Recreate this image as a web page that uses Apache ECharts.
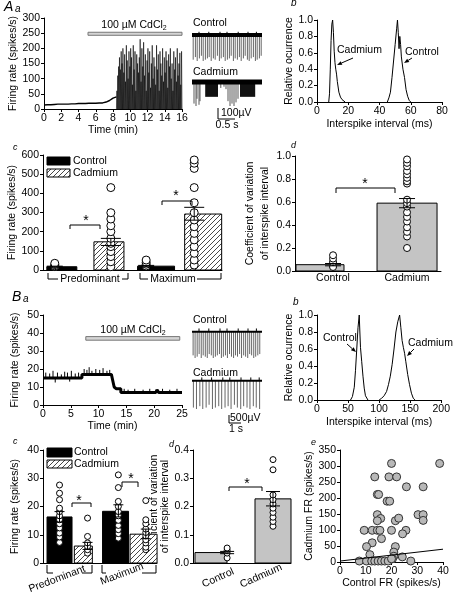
<!DOCTYPE html>
<html><head><meta charset="utf-8">
<script src="https://cdn.jsdelivr.net/npm/echarts@6/dist/echarts.min.js"></script>
<style>html,body{margin:0;padding:0;background:#fff}#c{width:453px;height:598px}</style>
</head><body><div id="c"></div>
<script>
// ================= DATA =================
// Aa: firing-rate time course (min, spikes/s)
const aaBaseStep = 0.2;
const aaBaseRate = [13,14,14,15,14,15,15,15,16,15, 16,16,16,17,16,17,17,17,17,17, 18,17,18,18,18,18,19,18,19,19, 19,19,20,19,20,21,23,25,28,32, 36,38,40];
const aaBurstStart = 8.4, aaBurstStep = 0.1;
const aaBurstPeak = [60,110,140,170,130,190,
 150,200,120,180,90,210,160,100,190,140,
 200,170,80,210,130,190,60,180,150,120,
 170,230,90,200,140,220,110,180,60,160,
 200,120,190,70,150,210,100,170,140,80,
 210,130,180,60,190,150,110,200,90,170,
 120,190,160,70,180,140,200,100,150,60,
 190,130,170,90,200,110,150,185,80,190];
const aaDrug = [5.1, 16];
// Ab: ISI histograms
const abCdX = [7.5,8,8.5,9,9.5,10,10.5,11,11.5,12,12.5,13,14,15,16,18];
const abCdY = [0,0.1,0.4,0.75,0.95,1.0,0.85,0.62,0.48,0.4,0.34,0.25,0.12,0.06,0.03,0];
const abCtX = [45,46,47,48,49,50,51,51.5,52,52.5,53,53.5,54,55,56,57,58,59,60];
const abCtY = [0,0.05,0.12,0.3,0.5,0.7,0.9,1.0,0.85,0.65,0.8,0.7,0.55,0.4,0.3,0.15,0.07,0.02,0];
// Ac: [predominant, maximum]
const acCtMean = [17, 20], acCdMean = [147, 292];
const acCtErr = [[15,20],[17,24]], acCdErr = [[128,165],[260,327]];
const acCtPredDots = [18,22,28,35];
const acCdPredDots = [17,43,70,96,122,139,165,200,231,266,299,430];
const acCtMaxDots = [21,30,40,52];
const acCdMaxDots = [26,52,87,122,157,191,226,261,299,351,430,530,557,574];
// Ad: CV of ISI [control, cadmium]
const adMean = [0.055, 0.59];
const adErr = [[0.045,0.065],[0.55,0.63]];
const adCtDots = [0.035,0.078,0.108,0.137];
const adCdDots = [0.20,0.30,0.34,0.38,0.43,0.47,0.51,0.56,0.59,0.62,0.76,0.78,0.81,0.84,0.87,0.91,0.94,0.97];
// Ba: firing-rate time course: steady level + brief fluctuations
const baLevelT = [0,7,7,12.3,12.8,13.2,14,14,20.3,20.5,20.8,25];
const baLevelV = [15,15,17,17,10,9,9,7,7,8.5,7,7];
const baTickT = [0.5,1.2,1.8,2.6,3.3,3.9,4.4,5.1,5.8,6.4, 2.2,4.8, 7.4,7.9,8.3,8.8,9.5,10.2,10.8,11.5,12.0, 14.6,15.3,16.5,18.0,19.2,21.5,22.8,24.1];
const baTickV = [18,17.5,19,18,17,18.5,18,19,17.5,18, 12.5,13, 20,19.5,21,19,20,19.5,20.5,19,19.5, 9,8.5,9,8.5,9,9,8.5,9];
const baDrug = [7.7, 24.6];
// Bb: ISI histograms
const bbCtX = [54,57,60,62,64,66,68,69,70,72,74,76,78,82];
const bbCtY = [0,0.04,0.15,0.35,0.6,0.85,1.0,0.8,0.62,0.45,0.28,0.14,0.05,0];
const bbCdX = [100,104,108,112,115,118,121,124,127,130,133,135,137,139,141,143,146,149,152,155,158];
const bbCdY = [0,0.02,0.05,0.1,0.18,0.28,0.42,0.6,0.8,0.92,1.0,0.85,0.7,0.62,0.55,0.45,0.3,0.18,0.08,0.02,0];
// Bc: [predominant, maximum]
const bcCtMean = [16.3, 18.3], bcCdMean = [6.0, 10.2];
const bcCtErr = [[14.5,18.2],[16.3,20.6]], bcCdErr = [[4.8,7.3],[8.6,12.0]];
const bcCtPredDots = [7.3,9.2,10.6,12.4,13.9,15.3,16.7,18.2,19.4,22.4,24.7,27.6];
const bcCdPredDots = [3.5,4.7,5.9,7.1,9.4,15.9];
const bcCtMaxDots = [8.8,10.4,11.8,13.3,15.1,16.7,18.2,20.0,21.8,26.7,31.2];
const bcCdMaxDots = [4.7,5.6,7.1,8.2,9.6,10.8,12.0,13.9,15.3,22.1];
// Bd: CV of ISI
const bdMean = [0.037, 0.227];
const bdErr = [[0.033,0.041],[0.202,0.253]];
const bdCtDots = [0.018,0.035,0.045,0.053];
const bdCdDots = [0.13,0.147,0.162,0.179,0.194,0.209,0.224,0.241,0.33,0.366];
// Be: control FR vs cadmium FR
const beCtrl = [20,38.7,13.5,19,22,14.5,15,18.3,19.3,25.8,32.3,30.3,32.3,32.3,14.5,15.8,14.5,21.5,22.8,9.4,12.5,14.5,15.5,20,25.6,24.3,16.1,12.5,10.3,21.5,11.6,20.9,20.9,24.2,20.4,7.5,10.3,12.3,13.5,14.8,16.1,17.4,18.7,27.5,20];
const beCd   = [308,308,266,266,266,211,211,190,190,235,235,148,148,130,148,136,129,129,137,99,99,99,99,99,99,88,73,60,48,48,23,31,18,16,10,3,3,3,3,3,3,3,3,3,10];
const beFitX = [0, 40], beFitY = [3, 40];
// Raw traces (time s, relative spike depth)
const trADur = 1.75;
const trACtlT = [0.03,0.085,0.13,0.185,0.235,0.28,0.335,0.385,0.43,0.48,0.535,0.58,0.635,0.685,0.73,0.785,0.83,0.885,0.935,0.98,1.035,1.08,1.135,1.185,1.23,1.285,1.33,1.385,1.43,1.48,1.535,1.585,1.63,1.685,1.73];
const trACtlD = [0.95,0.85,1,0.9,0.8,1,0.95,0.9,0.85,1,0.9,0.95,0.8,1,0.9,0.85,1,0.95,0.9,0.8,1,0.9,0.95,0.85,1,0.9,0.8,0.95,1,0.9,0.85,1,0.95,0.9,0.8];
const trACdT = [0.05,0.1,0.125,0.175,0.2,0.72,0.8,0.85,0.9,0.95,1.0,1.05,1.1,1.15];
const trACdD = [0.9,1,0.7,0.95,0.8,0.25,0.2,0.3,0.8,1,0.9,1,0.85,0.7];
const trACdBurst = [[0.33,0.65,0.62],[1.2,1.58,0.62]];
const trBDur = 5;
const trBCtlT = [0.08,0.22,0.37,0.51,0.66,0.80,0.95,1.09,1.23,1.38,1.52,1.67,1.81,1.96,2.10,2.24,2.39,2.53,2.68,2.82,2.97,3.11,3.25,3.40,3.54,3.69,3.83,3.98,4.12,4.26,4.41,4.55,4.70,4.84];
const trBCtlD = [0.9,1,0.95,0.85,1,0.9,0.95,1,0.85,0.9,1,0.95,0.9,0.85,1,0.95,0.9,1,0.85,0.95,1,0.9,0.95,0.85,1,0.9,0.95,1,0.85,0.9,1,0.95,0.9,0.85];
const trBCdT = [0.1,0.32,0.56,0.77,1.01,1.22,1.46,1.67,1.91,2.12,2.36,2.58,2.79,3.03,3.24,3.48,3.69,3.93,4.14,4.38,4.59,4.83];
const trBCdD = [0.95,1,0.9,1,0.95,0.85,1,0.95,0.9,1,0.95,0.9,1,0.85,0.95,1,0.9,0.95,1,0.9,0.95,1];
const trBUpT = [0.5,1.2,2.0,2.5,3.3,4.0,4.6];

// ================= LAYOUT / STYLE =================
const FF = '"Liberation Sans", Arial, sans-serif';
const F = (s, it) => (it ? 'italic ' : '') + s + 'px ' + FF;
const grids = [
  {left:44, top:18, width:138, height:91},
  {left:317, top:20, width:125, height:82},
  {left:43, top:155, width:179, height:115},
  {left:295, top:156, width:146, height:115},
  {left:43, top:315, width:139, height:90},
  {left:317, top:315, width:126, height:85},
  {left:43, top:450, width:114, height:113},
  {left:193, top:450, width:98, height:113},
  {left:340, top:450, width:103, height:112},
  {left:192, top:31, width:70, height:30},
  {left:192, top:79, width:70, height:27},
  {left:192, top:329, width:70, height:29},
  {left:192, top:378, width:70, height:31}
];
const acPos = [0,1,2,3], acW = [30,30,37,37], acDotX = [-0.15,1.04,1.79,2.81];
const adPos = [0,1], adW = [48,60], adDotX = [0.15,1];
const bcPos = [0,0.85,2,3], bcW = [25,18,26,27], bcDotX = [0,1.0,2.1,3.08];
const bdPos = [0,1], bdW = [32,36], bdDotX = [0.26,1];

function hatchCanvas(){
  const c = document.createElement('canvas'); c.width = 5; c.height = 5;
  const g = c.getContext('2d');
  g.fillStyle = '#fff'; g.fillRect(0,0,5,5);
  g.strokeStyle = '#333'; g.lineWidth = 0.9; g.beginPath();
  g.moveTo(0,5); g.lineTo(5,0); g.moveTo(-1,1); g.lineTo(1,-1); g.moveTo(4,6); g.lineTo(6,4);
  g.stroke(); return c;
}
const HATCH = {image: hatchCanvas(), repeat: 'repeat'};

function merge(a, b){
  const o = Object.assign({}, a);
  for (const k in b){
    const v = b[k];
    if (v && typeof v === 'object' && !Array.isArray(v) && a[k] && typeof a[k] === 'object' && !Array.isArray(a[k])) o[k] = merge(a[k], v);
    else o[k] = v;
  }
  return o;
}
const axBase = {
  type:'value', nameLocation:'middle',
  axisLine:{show:true, onZero:false, lineStyle:{color:'#000', width:1}},
  axisTick:{show:true, length:3, lineStyle:{color:'#000'}},
  axisLabel:{color:'#000', fontSize:10.5, fontFamily:FF, margin:4},
  splitLine:{show:false},
  nameTextStyle:{color:'#000', fontSize:10.5, fontFamily:FF}
};
const ax = (gi, o) => merge(merge(axBase, {gridIndex:gi}), o || {});
const f1 = v => v.toFixed(1);
const bareX = {axisTick:{show:false}, axisLabel:{show:false}};

const xAxis = [
  ax(0,{min:0,max:16,interval:2,name:'Time (min)',nameGap:14}),
  ax(1,{min:0,max:80,interval:20,name:'Interspike interval (ms)',nameGap:17}),
  ax(2,merge(bareX,{min:-0.4,max:3.4})),
  ax(3,merge(bareX,{min:-0.287,max:1.39})),
  ax(4,{min:0,max:25,interval:5,name:'Time (min)',nameGap:14}),
  ax(5,{min:0,max:200,interval:50,name:'Interspike interval (ms)',nameGap:17}),
  ax(6,merge(bareX,{min:-0.59,max:3.48})),
  ax(7,merge(bareX,{min:-0.29,max:1.29})),
  ax(8,{min:0,max:40,interval:10,name:'Control FR (spikes/s)',nameGap:12}),
  {type:'value',gridIndex:9,show:false,min:0,max:trADur},
  {type:'value',gridIndex:10,show:false,min:0,max:trADur},
  {type:'value',gridIndex:11,show:false,min:0,max:trBDur},
  {type:'value',gridIndex:12,show:false,min:0,max:trBDur}
];
const yAxis = [
  ax(0,{min:0,max:300,interval:50,name:'Firing rate (spikes/s)',nameGap:23}),
  ax(1,{min:0,max:1,interval:0.2,axisLabel:{formatter:f1},name:'Relative ocurrence',nameGap:19}),
  ax(2,{min:0,max:600,interval:100,name:'Firing rate (spikes/s)',nameGap:23}),
  ax(3,{min:0,max:1,interval:0.2,axisLabel:{formatter:f1},name:'Coefficient of variation\nof interspike interval',nameGap:14,nameTextStyle:{lineHeight:15}}),
  ax(4,{min:0,max:50,interval:10,name:'Firing rate (spikes/s)',nameGap:22}),
  ax(5,{min:0,max:1,interval:0.2,axisLabel:{formatter:f1},name:'Relative ocurrence',nameGap:19}),
  ax(6,{min:0,max:40,interval:10,name:'Firing rate (spikes/s)',nameGap:22}),
  ax(7,{min:0,max:0.4,interval:0.1,axisLabel:{formatter:f1},name:'Coefficient of variation\nof interspike interval',nameGap:5,nameTextStyle:{lineHeight:11}}),
  ax(8,{min:0,max:350,interval:50,name:'Cadmium FR (spikes/s)',nameGap:18}),
  {type:'value',gridIndex:9,show:false,min:-1,max:0.15},
  {type:'value',gridIndex:10,show:false,min:-1,max:0.12},
  {type:'value',gridIndex:11,show:false,min:-1,max:0.1},
  {type:'value',gridIndex:12,show:false,min:-1,max:0.1}
];

// ================= SERIES =================
const zip = (xs, ys) => xs.map((x,i)=>[x, ys[i]]);
const aaBase = aaBaseRate.map((v,i)=>[i*aaBaseStep, v]);
const aaBurst = [];
aaBurstPeak.forEach((p,i)=>{ aaBurst.push([aaBurstStart+i*aaBurstStep, 0]); aaBurst.push([aaBurstStart+(i+0.5)*aaBurstStep, p]); });
aaBurst.push([16, 0]);

const drugBar = {silent:true, label:{show:false}, itemStyle:{color:'#d4d4d4', borderColor:'#777', borderWidth:1}};
function lineS(gi, data, w, extra){
  return Object.assign({type:'line', xAxisIndex:gi, yAxisIndex:gi, data, symbol:'none', showSymbol:false, silent:true,
    lineStyle:{color:'#000', width:w}, emphasis:{disabled:true}}, extra||{});
}
function barS(gi, pos, vals, widths, fill){
  return {type:'custom', xAxisIndex:gi, yAxisIndex:gi, silent:true, z:2, emphasis:{disabled:true},
    data: vals.map((v,i)=>[pos[i], v]),
    renderItem:(params, api)=>{
      const i = params.dataIndex, x = api.value(0), v = api.value(1);
      const p0 = api.coord([x,0]), p1 = api.coord([x,v]), w = widths[i];
      return {type:'rect', shape:{x:p0[0]-w/2, y:p1[1], width:w, height:p0[1]-p1[1]},
        style:{fill:fill, stroke:'#000', lineWidth:1}};
    }};
}
function errS(gi, xs, errs, cap){
  return {type:'custom', xAxisIndex:gi, yAxisIndex:gi, silent:true, z:5, emphasis:{disabled:true},
    data: errs.map((e,i)=>[xs[i], e[0], e[1]]),
    renderItem:(params, api)=>{
      const x = api.value(0), a = api.coord([x, api.value(1)]), b = api.coord([x, api.value(2)]), h = cap/2;
      const st = {stroke:'#000', lineWidth:1};
      return {type:'group', children:[
        {type:'line', shape:{x1:a[0],y1:a[1],x2:b[0],y2:b[1]}, style:st},
        {type:'line', shape:{x1:a[0]-h,y1:a[1],x2:a[0]+h,y2:a[1]}, style:st},
        {type:'line', shape:{x1:b[0]-h,y1:b[1],x2:b[0]+h,y2:b[1]}, style:st}]};
    }};
}
function dotS(gi, x, vals, size, fill){
  return {type:'scatter', xAxisIndex:gi, yAxisIndex:gi, silent:true, z:4, emphasis:{disabled:true},
    data: vals.map(v=>[x, v]), symbol:'circle', symbolSize:size,
    itemStyle:{color:fill||'#fff', borderColor:'#000', borderWidth:1, opacity:1}};
}
function spikeS(gi, ts, ds, color, w){
  return {type:'custom', xAxisIndex:gi, yAxisIndex:gi, silent:true, z:2, emphasis:{disabled:true},
    data: ts.map((t,i)=>[t, ds[i]]),
    renderItem:(params, api)=>{
      const t = api.value(0), a = api.coord([t,0]), b = api.coord([t,-api.value(1)]);
      return {type:'line', shape:{x1:a[0],y1:a[1],x2:b[0],y2:b[1]}, style:{stroke:color, lineWidth:w}};
    }};
}
// vertical fluctuation ticks from the steady level to a value
function tickS(gi, ts, vs, levelT, levelV){
  const levelAt = t => { for (let i=levelT.length-1;i>=0;i--) if (levelT[i] <= t) return levelV[i]; return levelV[0]; };
  return {type:'custom', xAxisIndex:gi, yAxisIndex:gi, silent:true, z:3, emphasis:{disabled:true},
    data: ts.map((t,i)=>[t, vs[i]]),
    renderItem:(params, api)=>{
      const t = api.value(0), a = api.coord([t, levelAt(t)]), b = api.coord([t, api.value(1)]);
      return {type:'line', shape:{x1:a[0],y1:a[1],x2:b[0],y2:b[1]}, style:{stroke:'#000', lineWidth:1}};
    }};
}
function burstS(gi, bursts){
  return {type:'custom', xAxisIndex:gi, yAxisIndex:gi, silent:true, z:3, emphasis:{disabled:true},
    data: bursts,
    renderItem:(params, api)=>{
      const a = api.coord([api.value(0), 0]), b = api.coord([api.value(1), -api.value(2)]);
      return {type:'rect', shape:{x:a[0], y:a[1], width:b[0]-a[0], height:b[1]-a[1]}, style:{fill:'#111'}};
    }};
}
const upD = v => v.map(()=>-0.12);

const series = [
  lineS(0, aaBase, 1.4, {markArea:Object.assign({data:[[{xAxis:aaDrug[0], yAxis:243},{xAxis:aaDrug[1], yAxis:253}]]}, drugBar)}),
  lineS(0, aaBurst, 0.6),
  lineS(1, zip(abCdX, abCdY), 1),
  lineS(1, zip(abCtX, abCtY), 1),
  barS(2, [acPos[0],acPos[2]], acCtMean, [acW[0],acW[2]], '#000'),
  barS(2, [acPos[1],acPos[3]], acCdMean, [acW[1],acW[3]], HATCH),
  dotS(2, acDotX[0], acCtPredDots, 8), dotS(2, acDotX[1], acCdPredDots, 8),
  dotS(2, acDotX[2], acCtMaxDots, 8), dotS(2, acDotX[3], acCdMaxDots, 8),
  errS(2, [acDotX[0],acDotX[2]], acCtErr, 16), errS(2, [acDotX[1],acDotX[3]], acCdErr, 20),
  barS(3, adPos, adMean, adW, '#c4c4c4'),
  dotS(3, adDotX[0], adCtDots, 7), dotS(3, adDotX[1], adCdDots, 7),
  errS(3, adDotX, adErr, 16),
  lineS(4, zip(baLevelT, baLevelV), 3, {markArea:Object.assign({data:[[{xAxis:baDrug[0], yAxis:36},{xAxis:baDrug[1], yAxis:38}]]}, drugBar)}),
  tickS(4, baTickT, baTickV, baLevelT, baLevelV),
  lineS(5, zip(bbCtX, bbCtY), 1),
  lineS(5, zip(bbCdX, bbCdY), 1),
  barS(6, [bcPos[0],bcPos[2]], bcCtMean, [bcW[0],bcW[2]], '#000'),
  barS(6, [bcPos[1],bcPos[3]], bcCdMean, [bcW[1],bcW[3]], HATCH),
  dotS(6, bcDotX[0], bcCtPredDots, 6), dotS(6, bcDotX[1], bcCdPredDots, 6),
  dotS(6, bcDotX[2], bcCtMaxDots, 6), dotS(6, bcDotX[3], bcCdMaxDots, 6),
  errS(6, [bcDotX[0],bcDotX[2]], bcCtErr, 10), errS(6, [bcDotX[1],bcDotX[3]], bcCdErr, 10),
  barS(7, bdPos, bdMean, bdW, '#c4c4c4'),
  dotS(7, bdDotX[0], bdCtDots, 6), dotS(7, bdDotX[1], bdCdDots, 6),
  errS(7, bdDotX, bdErr, 14),
  {type:'scatter', xAxisIndex:8, yAxisIndex:8, silent:true, z:3, data:zip(beCtrl, beCd), symbolSize:8,
    itemStyle:{color:'#b8b8b8', borderColor:'#333', borderWidth:1, opacity:1}},
  lineS(8, zip(beFitX, beFitY), 1, {z:4}),
  // raw traces
  spikeS(9, trACtlT, trACtlD, '#555', 0.9),
  spikeS(9, trBUpT.map(t=>t*trADur/trBDur), upD(trBUpT), '#000', 1),
  lineS(9, [[0,0],[trADur,0]], 4),
  spikeS(10, trACdT, trACdD, '#444', 0.9),
  burstS(10, trACdBurst),
  lineS(10, [[0,0],[trADur,0]], 5),
  spikeS(11, trBCtlT, trBCtlD, '#555', 0.9),
  spikeS(11, trBUpT, upD(trBUpT), '#000', 1),
  lineS(11, [[0,0],[trBDur,0]], 2),
  spikeS(12, trBCdT, trBCdD, '#555', 0.9),
  spikeS(12, trBUpT.map(t=>t+0.2), upD(trBUpT), '#000', 1),
  lineS(12, [[0,0],[trBDur,0]], 2)
];

// ================= ANNOTATIONS =================
const mctx = document.createElement('canvas').getContext('2d');
const tw = (t, f) => { mctx.font = f; return mctx.measureText(t).width; };
function T(text, x, y, o){
  o = o || {};
  const font = o.font || F(10);
  return {type:'text', x, y, rotation:o.rot||0, silent:true, z:10,
    style:{text, font, fill:'#000', align:o.align||'left', textAlign:o.align||'left', verticalAlign:'middle', textVerticalAlign:'middle'}};
}
function L(x1,y1,x2,y2,w,c){ return {type:'line', silent:true, z:10, shape:{x1,y1,x2,y2}, style:{stroke:c||'#000', lineWidth:w||1}}; }
function P(pts){ return {type:'polyline', silent:true, z:10, shape:{points:pts}, style:{stroke:'#000', lineWidth:1, fill:null}}; }
function R(x,y,w,h,fill){ return {type:'rect', silent:true, z:10, shape:{x,y,width:w,height:h}, style:{fill, stroke:'#000', lineWidth:1}}; }
function arrow(x1,y1,x2,y2){
  const a = Math.atan2(y2-y1, x2-x1), l = 5, h = 2;
  const bx = x2 - l*Math.cos(a), by = y2 - l*Math.sin(a);
  return [L(x1,y1,bx,by,1),
    {type:'polygon', silent:true, z:10, shape:{points:[[x2,y2],[bx+h*Math.sin(a), by-h*Math.cos(a)],[bx-h*Math.sin(a), by+h*Math.cos(a)]]}, style:{fill:'#000'}}];
}
const br = (x1,x2,y,d) => P([[x1,y+d],[x1,y],[x2,y],[x2,y+d]]);
const star = (x,y) => T('*', x, y+3, {align:'center', font:F(14)});
function cdcl(cx, cy){
  const f = F(10.5), w1 = tw('100 \u00b5M CdCl', f), w2 = tw('2', F(7));
  const x0 = cx - (w1+w2)/2;
  return [T('100 \u00b5M CdCl', x0, cy, {font:f}), T('2', x0+w1, cy+3, {font:F(7)})];
}
const g = [];
// panel letters
g.push(T('A', 4, 7, {font:F(14,true)}), T('a', 15, 9, {font:F(10,true)}));
g.push(T('b', 291, 3, {font:F(10,true)}));
g.push(T('c', 13, 147, {font:F(9,true)}));
g.push(T('d', 291, 145, {font:F(9,true)}));
g.push(T('B', 12, 297, {font:F(14,true)}), T('a', 23, 299, {font:F(10,true)}));
g.push(T('b', 293, 302, {font:F(10,true)}));
g.push(T('c', 13, 441, {font:F(9,true)}));
g.push(T('d', 169, 444, {font:F(9,true)}));
g.push(T('e', 311, 442, {font:F(9,true)}));
// drug labels
g.push(...cdcl(134, 25), ...cdcl(133, 330));
// trace labels & scale bars
g.push(T('Control', 193, 23, {font:F(10.5)}), T('Cadmium', 193, 72, {font:F(10.5)}));
g.push(T('Control', 193, 320, {font:F(10.5)}), T('Cadmium', 193, 373, {font:F(10.5)}));
g.push(P([[218,108],[218,119],[235,119]]), T('100\u00b5V', 221, 113, {font:F(10.5)}), T('0.5 s', 227, 125, {align:'center', font:F(10.5)}));
g.push(P([[229,415],[229,423],[241,423]]), T('500\u00b5V', 230, 418, {font:F(10.5)}), T('1 s', 236, 429, {align:'center', font:F(10.5)}));
// Ab / Bb annotations
g.push(T('Cadmium', 337, 50, {font:F(10.5)}), ...arrow(353,58,337,65), T('Control', 405, 52, {font:F(10.5)}), ...arrow(412,58,404,63));
g.push(T('Control', 323, 338, {font:F(10.5)}), ...arrow(347,344,356,352), T('Cadmium', 408, 343, {font:F(10.5)}), ...arrow(414,349,407,356));
// Ac legend, brackets, labels
g.push(R(47,157,23,8,'#000'), T('Control', 73, 161, {font:F(10.5)}));
g.push(R(47,169,23,8,HATCH), T('Cadmium', 73, 173, {font:F(10.5)}));
g.push(br(70,100,225,4), star(86,218.5), br(162,192,201,4), star(176,193.5));
g.push(P([[48,273],[48,279],[58,279]]), T('Predominant', 90, 279, {align:'center', font:F(10.5)}), P([[122,279],[128,279],[128,273]]));
g.push(P([[140,273],[140,279],[148,279]]), T('Maximum', 173, 279, {align:'center', font:F(10.5)}), P([[197,279],[221,279],[221,273]]));
// Ad
g.push(br(336,395,188,5), star(365,181));
g.push(T('Control', 333, 278, {align:'center', font:F(10.5)}), T('Cadmium', 407, 278, {align:'center', font:F(10.5)}));
// Bc legend, brackets, labels
g.push(R(47,448,25,9,'#000'), T('Control', 74, 452, {font:F(10.5)}));
g.push(R(47,460,25,8,HATCH), T('Cadmium', 74, 464, {font:F(10.5)}));
g.push(br(72,91,503,4), star(79,498), br(122,138,482,5), star(131,476));
g.push(P([[47,565],[47,573],[53,573]]), P([[82,573],[92,573],[92,565]]));
g.push(P([[102,565],[102,573],[106,573]]), P([[142,573],[156,573],[156,565]]));
g.push(T('Predominant', 57, 579, {align:'center', rot:0.36, font:F(10.5)}), T('Maximum', 122, 574, {align:'center', rot:0.36, font:F(10.5)}));
// Bd
g.push(br(229,262,487,4), star(247,481));
g.push(T('Control', 218, 578, {align:'center', rot:0.42, font:F(10.5)}), T('Cadmium', 261, 576, {align:'center', rot:0.42, font:F(10.5)}));

const chart = echarts.init(document.getElementById('c'), null, {renderer:'canvas'});
chart.setOption({
  animation:false, backgroundColor:'#fff',
  textStyle:{fontFamily:FF},
  grid: grids, xAxis, yAxis, series,
  graphic:{elements:g}
});
</script></body></html>
